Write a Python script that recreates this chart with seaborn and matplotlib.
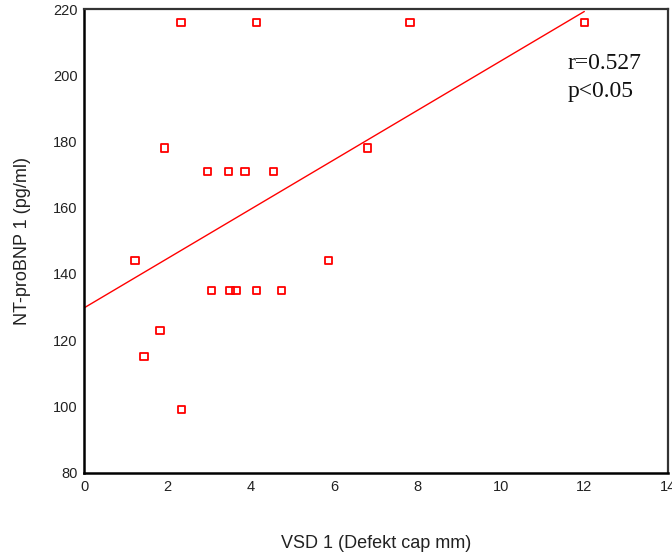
import numpy as np
import pandas as pd
import matplotlib
matplotlib.use("Agg")
import matplotlib.pyplot as plt
import seaborn as sns

# Data
vsd_mm = [2.32, 4.14, 7.82, 12.0, 1.93, 2.95, 3.46, 3.86, 4.54, 6.79,
          1.22, 5.86, 3.05, 3.50, 3.64, 4.14, 4.74, 1.82, 1.43, 2.33]
ntprobnp = [216, 216, 216, 216, 178, 171, 171, 171, 171, 178,
            144, 144, 135, 135, 135, 135, 135, 123, 115, 99]
x_ticks = [0, 2, 4, 6, 8, 10, 12, 14]
y_ticks = [80, 100, 120, 140, 160, 180, 200, 220]
x_label = "VSD 1 (Defekt cap mm)"
y_label = "NT-proBNP 1 (pg/ml)"
annot_text = "r=0.527\np<0.05"

df = pd.DataFrame({"vsd": vsd_mm, "nt": ntprobnp})

sns.set_theme(style="white")
plt.rcParams["font.family"] = ["Liberation Sans", "DejaVu Sans"]

fig = plt.figure(figsize=(6.72, 5.57), dpi=100)
ax = fig.add_axes([0.1255, 0.1513, 0.868, 0.8325])

# Linear fit line, drawn from 0 to max x
coef = np.polyfit(df["vsd"], df["nt"], 1)
fit_x = np.array([0.0, df["vsd"].max()])
fit_df = pd.DataFrame({"x": fit_x, "y": np.polyval(coef, fit_x)})
sns.lineplot(data=fit_df, x="x", y="y", ax=ax, color="#ff0000", lw=1.0)

sns.scatterplot(data=df, x="vsd", y="nt", ax=ax, marker="s", s=28,
                facecolors="none", edgecolors="#ff0000", linewidths=1.3,
                zorder=3)

ax.set_xlim(0, 14)
ax.set_ylim(80, 220)
ax.set_xticks(x_ticks)
ax.set_yticks(y_ticks)
ax.tick_params(axis="both", which="major", direction="out", length=3,
               width=2.5, color="black", labelsize=10.5, pad=2,
               labelcolor="#222222")

for side in ["left", "bottom"]:
    ax.spines[side].set_color("black")
    ax.spines[side].set_linewidth(1.8)
for side in ["top", "right"]:
    ax.spines[side].set_color("#333333")
    ax.spines[side].set_linewidth(1.6)

ax.set_xlabel(x_label, fontsize=13, labelpad=30, color="#222222")
ax.set_ylabel(y_label, fontsize=13, labelpad=16, color="#222222")

ax.text(0.828, 0.905, annot_text, transform=ax.transAxes, ha="left",
        va="top", fontsize=17, family=["Liberation Serif", "DejaVu Serif"],
        linespacing=1.45, color="#111111")

fig.savefig("out.png", dpi=100)
